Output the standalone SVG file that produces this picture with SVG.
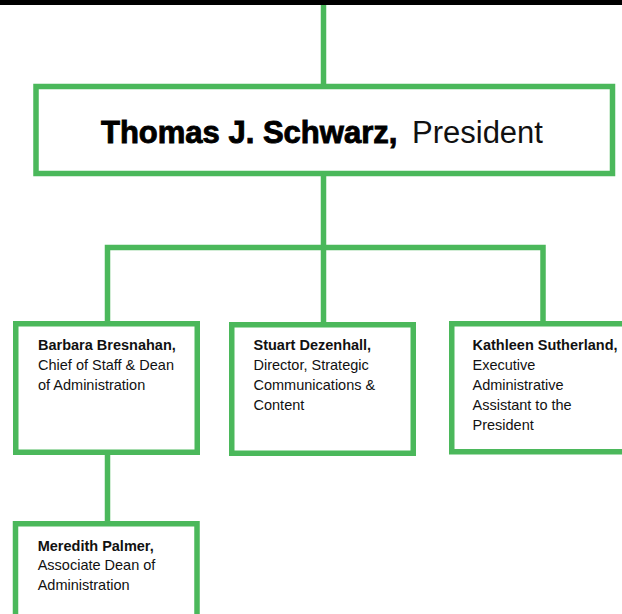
<svg xmlns="http://www.w3.org/2000/svg" width="622" height="614" viewBox="0 0 622 614">
<style>
.box{fill:#ffffff;stroke:#4bb85b;stroke-width:5.5}
.ln{fill:none;stroke:#4bb85b;stroke-width:5.5}
text{font-family:"Liberation Sans",Arial,sans-serif;fill:#111111}
.t{font-size:14.5px}
.b{font-weight:bold}
.big{font-size:31px}
.heavy{font-weight:bold;fill:#000000;stroke:#000000;stroke-width:0.9}
</style>
<rect x="0" y="0" width="622" height="614" fill="#ffffff"/>
<rect x="0" y="0" width="622" height="5" fill="#000000"/>
<g id="connectors">
<line class="ln" x1="323.5" y1="5" x2="323.5" y2="86.5"/>
<line class="ln" x1="323.5" y1="173.5" x2="323.5" y2="324"/>
<polyline class="ln" points="107.5,323 107.5,247.5 543,247.5 543,323"/>
<line class="ln" x1="107.5" y1="452" x2="107.5" y2="524"/>
</g>
<g id="president">
<rect class="box" x="36" y="86.5" width="576.5" height="87"/>
<text class="big" y="142.5"><tspan x="101" class="heavy">Thomas J. Schwarz,</tspan><tspan x="412">President</tspan></text>
</g>
<g id="barbara">
<rect class="box" x="15.75" y="323.75" width="181.5" height="128.5"/>
<text class="t"><tspan x="38" y="350" class="b">Barbara Bresnahan,</tspan><tspan x="38" y="370">Chief of Staff &amp; Dean</tspan><tspan x="38" y="390">of Administration</tspan></text>
</g>
<g id="stuart">
<rect class="box" x="231.75" y="324.75" width="181.5" height="128.5"/>
<text class="t"><tspan x="253.5" y="350" class="b">Stuart Dezenhall,</tspan><tspan x="253.5" y="370">Director, Strategic</tspan><tspan x="253.5" y="390">Communications &amp;</tspan><tspan x="253.5" y="410">Content</tspan></text>
</g>
<g id="kathleen">
<rect class="box" x="451.75" y="323.75" width="181.5" height="128"/>
<text class="t"><tspan x="472.5" y="350" class="b">Kathleen Sutherland,</tspan><tspan x="472.5" y="370">Executive</tspan><tspan x="472.5" y="390">Administrative</tspan><tspan x="472.5" y="410">Assistant to the</tspan><tspan x="472.5" y="430">President</tspan></text>
</g>
<g id="meredith">
<rect class="box" x="15.5" y="523.75" width="181.5" height="100"/>
<text class="t"><tspan x="37.7" y="550.7" class="b">Meredith Palmer,</tspan><tspan x="37.7" y="570">Associate Dean of</tspan><tspan x="37.7" y="590">Administration</tspan></text>
</g>
</svg>
